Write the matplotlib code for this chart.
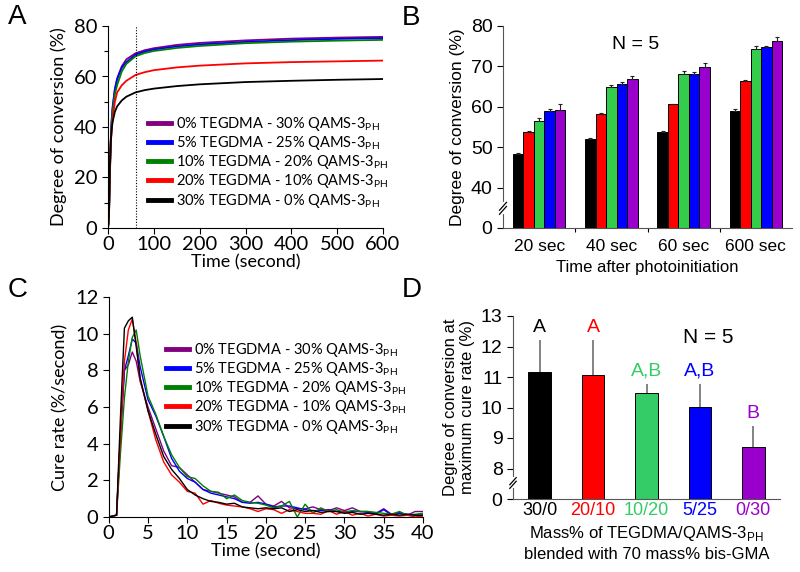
import matplotlib
matplotlib.use("Agg")
import matplotlib.pyplot as plt
import numpy as np

# ---------------- data ----------------
series_labels = [
    "0% TEGDMA - 30% QAMS-3$_\\mathregular{PH}$",
    "5% TEGDMA - 25% QAMS-3$_\\mathregular{PH}$",
    "10% TEGDMA - 20% QAMS-3$_\\mathregular{PH}$",
    "20% TEGDMA - 10% QAMS-3$_\\mathregular{PH}$",
    "30% TEGDMA - 0% QAMS-3$_\\mathregular{PH}$",
]
line_colors = ["#800080", "#0000ff", "#008000", "#ff0000", "#000000"]

# Panel A: degree of conversion vs time
t_a = [0, 2, 4, 6, 8, 10, 15, 20, 30, 40, 60, 80, 100, 150, 200, 300, 400, 500, 600]
dc_purple = [0, 4, 21, 34, 42, 47, 55, 59.3, 64.0, 66.8, 69.2, 70.4, 71.2, 72.5, 73.3, 74.3, 75.0, 75.4, 75.7]
dc_blue   = [0, 4, 22, 35, 43, 48, 55, 58.9, 63.5, 65.7, 68.6, 69.9, 70.7, 71.9, 72.7, 73.7, 74.4, 74.9, 75.2]
dc_green  = [0, 3, 20, 33, 41, 46, 53, 56.6, 62.0, 65.0, 68.0, 69.3, 70.1, 71.3, 72.1, 73.2, 73.8, 74.2, 74.5]
dc_red    = [0, 4, 22, 33, 39, 43, 50, 53.7, 56.5, 58.3, 60.6, 61.7, 62.5, 63.6, 64.3, 65.2, 65.7, 66.0, 66.3]
dc_black  = [0, 5, 24, 34, 39, 42, 46, 48.2, 50.5, 52.0, 53.7, 54.6, 55.2, 56.2, 56.9, 57.8, 58.3, 58.7, 59.0]

# Panel B: DC at time points
b_groups = ["20 sec", "40 sec", "60 sec", "600 sec"]
b_colors = ["#000000", "#ff0000", "#33cc4d", "#0000ff", "#9900cc"]
b_black  = [48.2, 52.0, 53.7, 58.9]
b_red    = [53.7, 58.3, 60.6, 66.4]
b_green  = [56.6, 65.0, 68.0, 74.2]
b_blue   = [58.9, 65.7, 68.2, 74.8]
b_purple = [59.3, 66.8, 69.9, 76.4]
e_black  = [0.4, 0.4, 0.4, 0.6]
e_red    = [0.4, 0.2, 0.2, 0.2]
e_green  = [0.6, 0.5, 0.8, 0.9]
e_blue   = [0.5, 0.4, 0.3, 0.2]
e_purple = [1.3, 0.9, 0.9, 1.0]

# Panel C: cure rate vs time
t_c = [0, 1, 1.5, 2, 2.5, 3, 3.5, 4, 5, 6, 7, 8, 9, 10, 11, 12, 13, 14, 15, 16, 17, 18, 19, 20,
       21, 22, 23, 24, 25, 26, 27, 28, 29, 30, 31, 32, 33, 34, 35, 36, 37, 38, 39, 40]
cr_purple = [0, 0.1, 4.5, 8.0, 8.3, 9.0, 8.5, 7.4, 6.0, 4.8, 3.6, 2.8, 2.7, 2.3, 1.9, 1.5, 1.4, 1.3, 1.2, 1.1,
             0.8, 0.8, 1.15, 0.7, 0.6, 0.85, 0.5, 0.45, 0.45, 0.55, 0.4, 0.35, 0.5, 0.35, 0.5, 0.3, 0.3,
             0.2, 0.45, 0.15, 0.25, 0.1, 0.3, 0.3]
cr_blue   = [0, 0.1, 4.5, 8.0, 8.8, 9.7, 9.5, 8.2, 6.4, 5.5, 4.4, 3.2, 2.5, 2.1, 1.9, 1.5, 1.3, 1.2, 1.1, 1.0,
             0.8, 0.75, 0.8, 0.7, 0.55, 0.6, 0.6, 0.5, 0.4, 0.35, 0.35, 0.4, 0.3, 0.3, 0.3, 0.3, 0.25,
             0.15, 0.4, 0.1, 0.2, 0.15, 0.1, 0.1]
cr_green  = [0, 0.1, 3.5, 6.5, 8.5, 9.8, 10.2, 8.8, 6.6, 5.6, 4.4, 3.4, 2.7, 2.2, 2.1, 1.7, 1.4, 1.35, 1.0, 1.2,
             0.9, 0.8, 0.75, 0.65, 0.5, 0.6, 0.85, 0.0, 0.7, 0.2, 0.5, 0.3, 0.4, 0.25, 0.35, 0.3, 0.3,
             0.25, 0.2, 0.15, 0.3, 0.1, 0.15, 0.2]
cr_red    = [0, 0.1, 4.5, 8.5, 10.2, 10.8, 9.5, 7.5, 5.8, 4.2, 3.0, 2.3, 1.9, 1.4, 1.3, 0.7, 0.9, 0.75, 0.65,
             0.6, 0.55, 0.45, 0.3, 0.45, 0.4, 0.2, 0.4, 0.3, 0.2, 0.2, 0.15, 0.35, 0.15, 0.3, 0.1, 0.2,
             0.05, 0.15, 0.05, 0.1, 0.05, 0.1, 0.0, 0.05]
cr_black  = [0, 0.1, 5.5, 10.3, 10.7, 10.9, 9.3, 7.6, 5.8, 4.5, 3.3, 2.6, 2.1, 1.5, 1.2, 1.0, 0.85, 0.8, 0.7,
             0.75, 0.55, 0.5, 0.45, 0.5, 0.45, 0.5, 0.3, 0.4, 0.3, 0.35, 0.25, 0.3, 0.3, 0.2, 0.25, 0.15,
             0.2, 0.15, 0.1, 0.15, 0.1, 0.15, 0.1, 0.1]

# Panel D: DC at max cure rate
d_labels = ["30/0", "20/10", "10/20", "5/25", "0/30"]
d_colors = ["#000000", "#ff0000", "#33cc66", "#0000ff", "#9900cc"]
d_values = [11.15, 11.08, 10.47, 10.02, 8.72]
d_errors = [1.05, 1.12, 0.31, 0.76, 0.66]
d_groups = ["A", "A", "A,B", "A,B", "B"]

# ---------------- figure ----------------
fig = plt.figure(figsize=(8, 5.72), dpi=100)
FA = "Lato"
FB = "Liberation Sans"

def px(l, r, t, b):
    W, H = 800, 572
    return [l / W, 1 - b / H, (r - l) / W, (b - t) / H]

def break_mark(ax, yfrac):
    d = 0.012
    kw = dict(transform=ax.transAxes, color="k", lw=0.9, clip_on=False, zorder=5)
    ax.plot([0.0, 0.0], [yfrac - 0.02, yfrac + 0.02], transform=ax.transAxes,
            color="white", lw=3, clip_on=False, zorder=4)
    ax.plot([-d, d], [yfrac - 0.02 - d, yfrac - 0.005 + d], **kw)
    ax.plot([-d, d], [yfrac + 0.0 - d, yfrac + 0.015 + d], **kw)

# ---- Panel A ----
axA = fig.add_axes(px(108, 383, 26, 228))
dcs = [dc_purple, dc_blue, dc_green, dc_red, dc_black]
for vals, c, lab in zip(dcs, line_colors, series_labels):
    axA.plot(t_a, vals, color=c, lw=1.3, label=lab)
axA.axvline(60, color="k", lw=0.8, ls=(0, (1, 1.5)))
axA.set_xlim(0, 600)
axA.set_ylim(0, 80)
axA.set_xticks(range(0, 601, 100))
axA.set_yticks(range(0, 81, 20))
axA.set_yticks(range(10, 80, 20), minor=True)
for s in ["top", "right"]:
    axA.spines[s].set_visible(False)
axA.tick_params(labelsize=14.5, length=4, width=0.8)
axA.tick_params(axis="x", pad=2)
axA.tick_params(which="minor", length=3, width=0.8)
for lbl in axA.get_xticklabels() + axA.get_yticklabels():
    lbl.set_fontfamily(FA)
axA.set_xlabel("Time (second)", fontsize=13, fontfamily=FA, labelpad=1)
axA.set_ylabel("Degree of conversion (%)", fontsize=13, fontfamily=FA, labelpad=5)
legA = axA.legend(loc="upper left", bbox_to_anchor=(148 / 800, 1 - 115 / 572),
                  bbox_transform=fig.transFigure, frameon=False,
                  prop={"family": FA, "size": 10.5}, handlelength=1.6,
                  handletextpad=0.3, labelspacing=0.08, borderpad=0, borderaxespad=0)
for h in legA.get_lines():
    h.set_linewidth(3.5)
fig.text(8 / 800, 1 - 17 / 572, "A", fontsize=20, fontfamily=FB, va="center")

# ---- Panel B ----
axB = fig.add_axes(px(503, 792, 26, 228))
x = np.arange(len(b_groups))
bw = 0.146
b_vals = [b_black, b_red, b_green, b_blue, b_purple]
b_errs = [e_black, e_red, e_green, e_blue, e_purple]
for i, (v, e, c) in enumerate(zip(b_vals, b_errs, b_colors)):
    axB.bar(x + (i - 2) * bw, v, bw, color=c, edgecolor="k", lw=0.7,
            yerr=[[0] * len(e), e], error_kw=dict(ecolor="#222222", elinewidth=0.8, capsize=1.5, capthick=0.8))
axB.set_ylim(30, 80)
axB.set_xlim(-0.5, 3.5)
axB.set_yticks([30, 40, 50, 60, 70, 80])
axB.set_yticklabels(["0", "40", "50", "60", "70", "80"])
axB.set_xticks(x)
axB.set_xticklabels(b_groups)
axB.set_xticks([0.5, 1.5, 2.5], minor=True)
axB.tick_params(axis="x", which="major", length=0, pad=8)
axB.tick_params(axis="x", which="minor", length=3, width=0.8)
axB.tick_params(axis="y", length=4, width=0.8)
for s in ["top", "right"]:
    axB.spines[s].set_visible(False)
for s in ["left", "bottom"]:
    axB.spines[s].set_color("#555555")
for lbl in axB.get_yticklabels():
    lbl.set_fontfamily(FB)
    lbl.set_fontsize(14)
for lbl in axB.get_xticklabels():
    lbl.set_fontfamily(FB)
    lbl.set_fontsize(12.5)
axB.set_xlabel("Time after photoinitiation", fontsize=12, fontfamily=FB, labelpad=4)
axB.set_ylabel("Degree of conversion (%)", fontsize=12.5, fontfamily=FB, labelpad=4)
axB.text(0.46, 0.91, "N = 5", transform=axB.transAxes, fontsize=14, fontfamily=FB,
         ha="center", va="center")
break_mark(axB, 0.1)
fig.text(402 / 800, 1 - 18 / 572, "B", fontsize=20, fontfamily=FB, va="center")

# ---- Panel C ----
axC = fig.add_axes(px(108.7, 423, 297, 517))
crs = [cr_purple, cr_blue, cr_green, cr_red, cr_black]
for vals, c, lab in zip(crs, line_colors, series_labels):
    axC.plot(t_c, vals, color=c, lw=1.0, label=lab)
axC.set_xlim(0, 40)
axC.set_ylim(0, 12)
axC.set_xticks(range(0, 41, 5))
axC.set_yticks(range(0, 13, 2))
for s in ["top", "right"]:
    axC.spines[s].set_visible(False)
axC.tick_params(labelsize=14.5, length=4, width=0.8)
axC.tick_params(axis="x", pad=2)
for lbl in axC.get_xticklabels() + axC.get_yticklabels():
    lbl.set_fontfamily(FA)
axC.set_xlabel("Time (second)", fontsize=13, fontfamily=FA, labelpad=1)
axC.set_ylabel("Cure rate (%/second)", fontsize=13, fontfamily=FA, labelpad=5)
legC = axC.legend(loc="upper left", bbox_to_anchor=(166 / 800, 1 - 341 / 572),
                  bbox_transform=fig.transFigure, frameon=False,
                  prop={"family": FA, "size": 10.5}, handlelength=1.6,
                  handletextpad=0.3, labelspacing=0.08, borderpad=0, borderaxespad=0)
for h in legC.get_lines():
    h.set_linewidth(3.5)
fig.text(8 / 800, 1 - 290 / 572, "C", fontsize=20, fontfamily=FB, va="center")

# ---- Panel D ----
axD = fig.add_axes(px(513, 780, 316, 499))
xd = np.arange(len(d_labels))
axD.bar(xd, d_values, 0.42, color=d_colors, edgecolor="k", lw=0.7,
        yerr=[[0] * len(d_errors), d_errors],
        error_kw=dict(ecolor="#6e6e6e", elinewidth=1.2, capsize=0))
for xi, v, e, g, c in zip(xd, d_values, d_errors, d_groups, d_colors):
    axD.text(xi, v + e + 0.42, g, color=c, fontsize=14, fontfamily=FB, ha="center", va="center")
axD.set_ylim(7, 13)
axD.set_xlim(-0.5, 4.5)
axD.set_yticks([7, 8, 9, 10, 11, 12, 13])
axD.set_yticklabels(["0", "8", "9", "10", "11", "12", "13"])
axD.set_xticks(xd)
axD.set_xticklabels(d_labels)
for lbl, c in zip(axD.get_xticklabels(), d_colors):
    lbl.set_color(c)
    lbl.set_fontfamily(FB)
    lbl.set_fontsize(13)
for lbl in axD.get_yticklabels():
    lbl.set_fontfamily(FB)
    lbl.set_fontsize(14)
axD.tick_params(axis="x", length=0, pad=2)
axD.tick_params(axis="y", length=4, width=0.8)
for s in ["top", "right"]:
    axD.spines[s].set_visible(False)
for s in ["left", "bottom"]:
    axD.spines[s].set_color("#555555")
axD.set_xlabel("Mass% of TEGDMA/QAMS-3$_\\mathregular{PH}$\nblended with 70 mass% bis-GMA",
               fontsize=12, fontfamily=FB, labelpad=4, linespacing=1.3)
axD.set_ylabel("Degree of conversion at\nmaximum cure rate (%)", fontsize=12,
               fontfamily=FB, labelpad=4, linespacing=1.2)
axD.text(0.73, 0.88, "N = 5", transform=axD.transAxes, fontsize=15, fontfamily=FB,
         ha="center", va="center")
break_mark(axD, 0.09)
fig.text(402 / 800, 1 - 290 / 572, "D", fontsize=20, fontfamily=FB, va="center")

fig.savefig("out.png", dpi=100)
